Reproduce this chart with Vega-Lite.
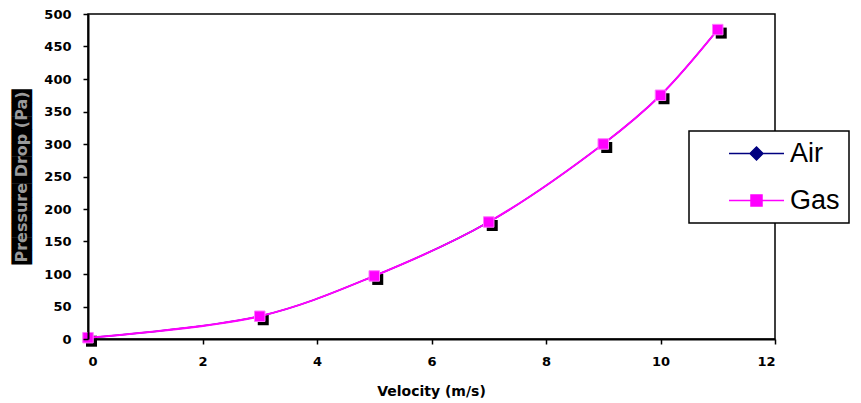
{
  "$schema": "https://vega.github.io/schema/vega-lite/v6.json",
  "width": 687,
  "height": 325,
  "autosize": {"type": "none"},
  "padding": {"left": 88, "top": 14, "right": 86, "bottom": 64},
  "background": "white",
  "config": {
    "view": {"stroke": "#000", "strokeWidth": 1.5},
    "axis": {
      "labelFont": "DejaVu Sans", "labelFontWeight": "bold", "labelFontSize": 13, "labelColor": "#000",
      "domainColor": "#000", "domainWidth": 2, "tickColor": "#000", "tickWidth": 1.5, "tickSize": 5,
      "grid": false, "titleFont": "DejaVu Sans", "titleFontWeight": "bold", "titleFontSize": 14, "titleColor": "#000"
    }
  },
  "datasets": {
    "d": [
      {"series": "Air", "velocity": 0, "pressure": 2},
      {"series": "Air", "velocity": 3, "pressure": 35},
      {"series": "Air", "velocity": 5, "pressure": 97},
      {"series": "Air", "velocity": 7, "pressure": 180},
      {"series": "Air", "velocity": 9, "pressure": 300},
      {"series": "Air", "velocity": 10, "pressure": 375},
      {"series": "Air", "velocity": 11, "pressure": 476},
      {"series": "Gas", "velocity": 0, "pressure": 2},
      {"series": "Gas", "velocity": 3, "pressure": 35},
      {"series": "Gas", "velocity": 5, "pressure": 97},
      {"series": "Gas", "velocity": 7, "pressure": 180},
      {"series": "Gas", "velocity": 9, "pressure": 300},
      {"series": "Gas", "velocity": 10, "pressure": 375},
      {"series": "Gas", "velocity": 11, "pressure": 476}
    ]
  },
  "data": {"name": "d"},
  "resolve": {"axis": {"x": "independent", "y": "independent"}},
  "layer": [
    {
      "transform": [{"filter": "datum.series === 'Air'"}],
      "mark": {"type": "line", "color": "#000080", "strokeWidth": 1.5, "interpolate": "catmull-rom"},
      "encoding": {
        "x": {"field": "velocity", "type": "quantitative", "scale": {"domain": [0, 12], "nice": false, "zero": true},
          "axis": {"orient": "bottom", "values": [0, 2, 4, 6, 8, 10, 12], "labelPadding": 11, "title": "Velocity (m/s)",
            "titleBaseline": "middle", "titleY": 52, "titleX": 343}},
        "y": {"field": "pressure", "type": "quantitative", "scale": {"domain": [0, 500], "nice": false},
          "axis": {"orient": "left", "zindex": 1, "values": [0, 50, 100, 150, 200, 250, 300, 350, 400, 450, 500], "labelPadding": 12,
            "title": "Pressure Drop (Pa)", "titleFont": "DejaVu Sans", "titleFontSize": 16, "titleFontWeight": "bold",
            "titleColor": "#9a9a9a", "titleAngle": -90, "titleAlign": "center", "titleBaseline": "middle",
            "titleX": -66.5, "titleY": 162.5}}
      }
    },
    {
      "transform": [{"filter": "datum.series === 'Gas'"}],
      "mark": {"type": "point", "shape": "square", "filled": true, "color": "#000", "opacity": 1, "size": 121, "xOffset": 3.5, "yOffset": 3.5},
      "encoding": {
        "x": {"field": "velocity", "type": "quantitative",
          "axis": {"orient": "top", "zindex": 0, "domain": false, "ticks": false, "labels": false, "title": "█████████████",
            "titleFont": "DejaVu Sans", "titleFontSize": 17.5, "titleFontWeight": "normal", "titleColor": "#000",
            "titleAngle": -90, "titleAlign": "center", "titleBaseline": "middle", "titleX": -65.5, "titleY": 162.5}},
        "y": {"field": "pressure", "type": "quantitative", "axis": null}
      }
    },
    {
      "transform": [{"filter": "datum.series === 'Gas'"}],
      "mark": {"type": "line", "color": "#ff00ff", "strokeWidth": 2, "interpolate": "catmull-rom"},
      "encoding": {
        "x": {"field": "velocity", "type": "quantitative", "axis": null},
        "y": {"field": "pressure", "type": "quantitative", "axis": null}
      }
    },
    {
      "transform": [{"filter": "datum.series === 'Gas'"}],
      "mark": {"type": "point", "shape": "square", "filled": true, "fill": "#ff00ff", "stroke": "#ff77ff", "strokeWidth": 1, "opacity": 1, "size": 110},
      "encoding": {
        "x": {"field": "velocity", "type": "quantitative", "axis": null},
        "y": {"field": "pressure", "type": "quantitative", "axis": null}
      }
    },
    {
      "mark": {"type": "point", "filled": true, "opacity": 0, "size": 400},
      "encoding": {
        "x": {"field": "velocity", "type": "quantitative", "axis": null},
        "y": {"field": "pressure", "type": "quantitative", "axis": null},
        "color": {"field": "series", "type": "nominal",
          "scale": {"domain": ["Air", "Gas"], "range": ["#000080", "#ff00ff"]},
          "legend": {"orient": "none", "legendX": 601, "legendY": 117, "title": null, "padding": 9,
            "symbolOffset": 45, "labelOffset": 20, "labelFont": "Liberation Sans", "labelFontSize": 27,
            "labelColor": "#000", "rowPadding": 19, "strokeColor": "#000", "fillColor": "#fff",
            "symbolSize": 400, "symbolStrokeWidth": 1.5,
            "encode": {
              "symbols": {"update": {"opacity": {"value": 1}, "stroke": {"scale": "color", "field": "value"}, "fill": {"scale": "color", "field": "value"}}},
              "legend": {"update": {"strokeWidth": {"value": 1.5}}}
            }}},
        "shape": {"field": "series", "type": "nominal",
          "scale": {"domain": ["Air", "Gas"], "range": ["M-2.75,0H2.75M0,-0.65L0.65,0L0,0.65L-0.65,0Z", "M-2.75,0H2.75M-0.55,-0.55H0.55V0.55H-0.55Z"]}}
      }
    }
  ]
}
